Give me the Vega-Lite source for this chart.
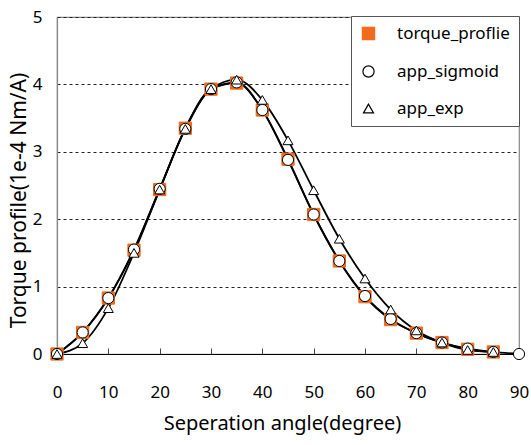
{
  "$schema": "https://vega.github.io/schema/vega-lite/v6.json",
  "width": 462,
  "height": 337,
  "autosize": "none",
  "padding": {"left": 57, "top": 17, "right": 12, "bottom": 91},
  "background": "white",
  "config": {
    "font": "Noto Sans",
    "view": {"stroke": "#888", "strokeWidth": 1.2},
    "legend": {
      "orient": "none", "legendX": 294, "legendY": -1,
      "direction": "vertical",
      "fillColor": "white", "strokeColor": "#555",
      "padding": 9, "rowPadding": 19,
      "labelFontSize": 17, "labelColor": "black", "labelOffset": 20, "labelLimit": 300,
      "symbolStrokeWidth": 1.2
    }
  },
  "data": {
    "values": [
      {"series": "torque_proflie", "angle": 0, "value": 0},
      {"series": "torque_proflie", "angle": 5, "value": 0.32},
      {"series": "torque_proflie", "angle": 10, "value": 0.83},
      {"series": "torque_proflie", "angle": 15, "value": 1.54},
      {"series": "torque_proflie", "angle": 20, "value": 2.44},
      {"series": "torque_proflie", "angle": 25, "value": 3.35},
      {"series": "torque_proflie", "angle": 30, "value": 3.93},
      {"series": "torque_proflie", "angle": 35, "value": 4.02},
      {"series": "torque_proflie", "angle": 40, "value": 3.62},
      {"series": "torque_proflie", "angle": 45, "value": 2.89},
      {"series": "torque_proflie", "angle": 50, "value": 2.07},
      {"series": "torque_proflie", "angle": 55, "value": 1.38},
      {"series": "torque_proflie", "angle": 60, "value": 0.85},
      {"series": "torque_proflie", "angle": 65, "value": 0.51},
      {"series": "torque_proflie", "angle": 70, "value": 0.31},
      {"series": "torque_proflie", "angle": 75, "value": 0.17},
      {"series": "torque_proflie", "angle": 80, "value": 0.07},
      {"series": "torque_proflie", "angle": 85, "value": 0.03},
      {"series": "app_sigmoid", "angle": 0, "value": 0},
      {"series": "app_sigmoid", "angle": 5, "value": 0.32},
      {"series": "app_sigmoid", "angle": 10, "value": 0.83},
      {"series": "app_sigmoid", "angle": 15, "value": 1.55},
      {"series": "app_sigmoid", "angle": 20, "value": 2.45},
      {"series": "app_sigmoid", "angle": 25, "value": 3.34},
      {"series": "app_sigmoid", "angle": 30, "value": 3.93},
      {"series": "app_sigmoid", "angle": 35, "value": 4.03},
      {"series": "app_sigmoid", "angle": 40, "value": 3.62},
      {"series": "app_sigmoid", "angle": 45, "value": 2.88},
      {"series": "app_sigmoid", "angle": 50, "value": 2.07},
      {"series": "app_sigmoid", "angle": 55, "value": 1.38},
      {"series": "app_sigmoid", "angle": 60, "value": 0.86},
      {"series": "app_sigmoid", "angle": 65, "value": 0.52},
      {"series": "app_sigmoid", "angle": 70, "value": 0.31},
      {"series": "app_sigmoid", "angle": 75, "value": 0.17},
      {"series": "app_sigmoid", "angle": 80, "value": 0.08},
      {"series": "app_sigmoid", "angle": 85, "value": 0.03},
      {"series": "app_sigmoid", "angle": 90, "value": 0.0},
      {"series": "app_exp", "angle": 0, "value": 0},
      {"series": "app_exp", "angle": 5, "value": 0.16},
      {"series": "app_exp", "angle": 10, "value": 0.68},
      {"series": "app_exp", "angle": 15, "value": 1.5},
      {"series": "app_exp", "angle": 20, "value": 2.44},
      {"series": "app_exp", "angle": 25, "value": 3.34},
      {"series": "app_exp", "angle": 30, "value": 3.93},
      {"series": "app_exp", "angle": 35, "value": 4.07},
      {"series": "app_exp", "angle": 40, "value": 3.77},
      {"series": "app_exp", "angle": 45, "value": 3.17},
      {"series": "app_exp", "angle": 50, "value": 2.43},
      {"series": "app_exp", "angle": 55, "value": 1.71},
      {"series": "app_exp", "angle": 60, "value": 1.12},
      {"series": "app_exp", "angle": 65, "value": 0.66},
      {"series": "app_exp", "angle": 70, "value": 0.35},
      {"series": "app_exp", "angle": 75, "value": 0.17},
      {"series": "app_exp", "angle": 80, "value": 0.06},
      {"series": "app_exp", "angle": 85, "value": 0.03}
    ]
  },
  "encoding": {
    "x": {
      "field": "angle", "type": "quantitative",
      "scale": {"domain": [0, 90], "nice": false, "zero": false},
      "axis": {
        "title": "Seperation angle(degree)",
        "values": [0, 10, 20, 30, 40, 50, 60, 70, 80, 90],
        "grid": false,
        "domainColor": "black", "domainWidth": 1.2,
        "tickColor": "#444", "tickSize": -6, "tickWidth": 1,
        "labelFontSize": 17, "labelColor": "black", "labelPadding": 36,
        "labelFlush": false,
        "titleFontSize": 20, "titleFontWeight": "normal", "titleColor": "black", "titlePadding": 13,
        "titleX": 225
      }
    },
    "y": {
      "field": "value", "type": "quantitative",
      "scale": {"domain": [0, 5], "nice": false},
      "axis": {
        "title": "Torque profile(1e-4 Nm/A)",
        "values": [0, 1, 2, 3, 4, 5],
        "grid": true, "gridColor": "#222", "gridDash": [3, 3], "gridWidth": 1,
        "domainColor": "#888", "domainWidth": 1.2,
        "ticks": false,
        "labelFontSize": 17, "labelColor": "black", "labelPadding": 15,
        "titleFontSize": 21, "titleFontWeight": "normal", "titleColor": "black", "titlePadding": 3,
        "titleY": 183
      }
    }
  },
  "layer": [
    {
      "mark": {"type": "line", "interpolate": "monotone", "color": "black", "strokeWidth": 1.8},
      "encoding": {"detail": {"field": "series"}}
    },
    {
      "mark": {"type": "point", "filled": true, "opacity": 1, "strokeWidth": 1},
      "encoding": {
        "shape": {
          "field": "series", "type": "nominal",
          "scale": {"domain": ["torque_proflie", "app_sigmoid", "app_exp"], "range": ["square", "circle", "triangle-up"]},
          "legend": {"title": null}
        },
        "fill": {
          "field": "series", "type": "nominal",
          "scale": {"domain": ["torque_proflie", "app_sigmoid", "app_exp"], "range": ["#F26A1B", "white", "white"]},
          "legend": {"title": null}
        },
        "stroke": {
          "field": "series", "type": "nominal",
          "scale": {"domain": ["torque_proflie", "app_sigmoid", "app_exp"], "range": ["#F26A1B", "black", "black"]},
          "legend": {"title": null}
        },
        "size": {
          "field": "series", "type": "nominal",
          "scale": {"domain": ["torque_proflie", "app_sigmoid", "app_exp"], "range": [150, 100, 150]},
          "legend": {"title": null}
        }
      }
    }
  ]
}
